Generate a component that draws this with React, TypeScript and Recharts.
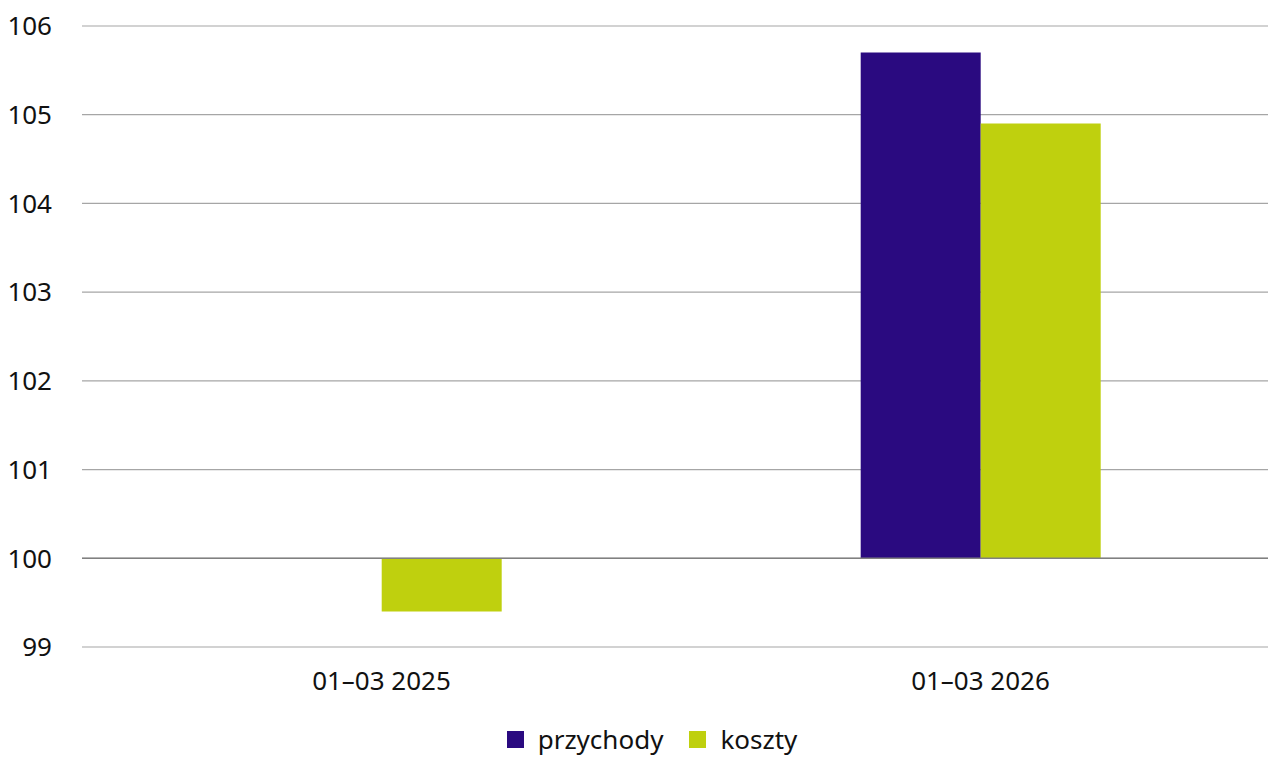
import { BarChart, Bar, XAxis, YAxis, CartesianGrid, Legend, ReferenceLine } from "recharts";

const periods = ["01–03 2025", "01–03 2026"];
const przychody = [100, 105.7];
const koszty = [99.4, 104.9];
const yTicks = [99, 100, 101, 102, 103, 104, 105, 106];
const baseValue = 100;

const series = [
  { key: "przychody", name: "przychody", color: "#2a0a80" },
  { key: "koszty", name: "koszty", color: "#bfd00e" },
];

// range bars drawn from the 100 baseline
const data = periods.map((p, i) => ({
  period: p,
  przychody: [baseValue, przychody[i]],
  koszty: [baseValue, koszty[i]],
}));

const font = "'Noto Sans', sans-serif";

function LegendBox() {
  return (
    <div
      style={{
        display: "flex",
        justifyContent: "center",
        alignItems: "center",
        height: 36,
        lineHeight: "36px",
        fontFamily: font,
        fontSize: 26,
        color: "#111",
        paddingLeft: 24,
        boxSizing: "border-box",
      }}
    >
      {series.map((s, i) => (
        <div
          key={s.key}
          style={{ display: "flex", alignItems: "center", marginLeft: i === 0 ? 0 : 26 }}
        >
          <span style={{ width: 17, height: 17, background: s.color, marginRight: 14, display: "inline-block" }} />
          <span>{s.name}</span>
        </div>
      ))}
    </div>
  );
}

export default function App() {
  return (
    <div
      style={{
        position: "absolute",
        left: 0,
        top: 0,
        width: 1268,
        height: 757,
        overflow: "hidden",
        background: "#fff",
      }}
    >
      <BarChart
        width={1280}
        height={757}
        data={data}
        margin={{ top: 26, right: 0, left: 0, bottom: 0 }}
        barCategoryGap="30%"
        barGap={0}
      >
        <CartesianGrid vertical={false} stroke="#a6a6a6" strokeWidth={1.2} />
        <XAxis
          dataKey="period"
          axisLine={false}
          tickLine={false}
          height={74}
          tickMargin={19}
          tick={{ fill: "#111", fontSize: 26, fontFamily: font }}
        />
        <YAxis
          domain={[99, 106]}
          ticks={yTicks}
          width={82}
          axisLine={false}
          tickLine={false}
          tickMargin={24}
          interval={0}
          tick={{ fill: "#111", fontSize: 26, fontFamily: font }}
        />
        {series.map((s) => (
          <Bar key={s.key} dataKey={s.key} name={s.name} fill={s.color} isAnimationActive={false} />
        ))}
        <ReferenceLine y={baseValue} stroke="#808080" strokeWidth={1.6} />
        <Legend verticalAlign="bottom" content={() => <LegendBox />} />
      </BarChart>
    </div>
  );
}
